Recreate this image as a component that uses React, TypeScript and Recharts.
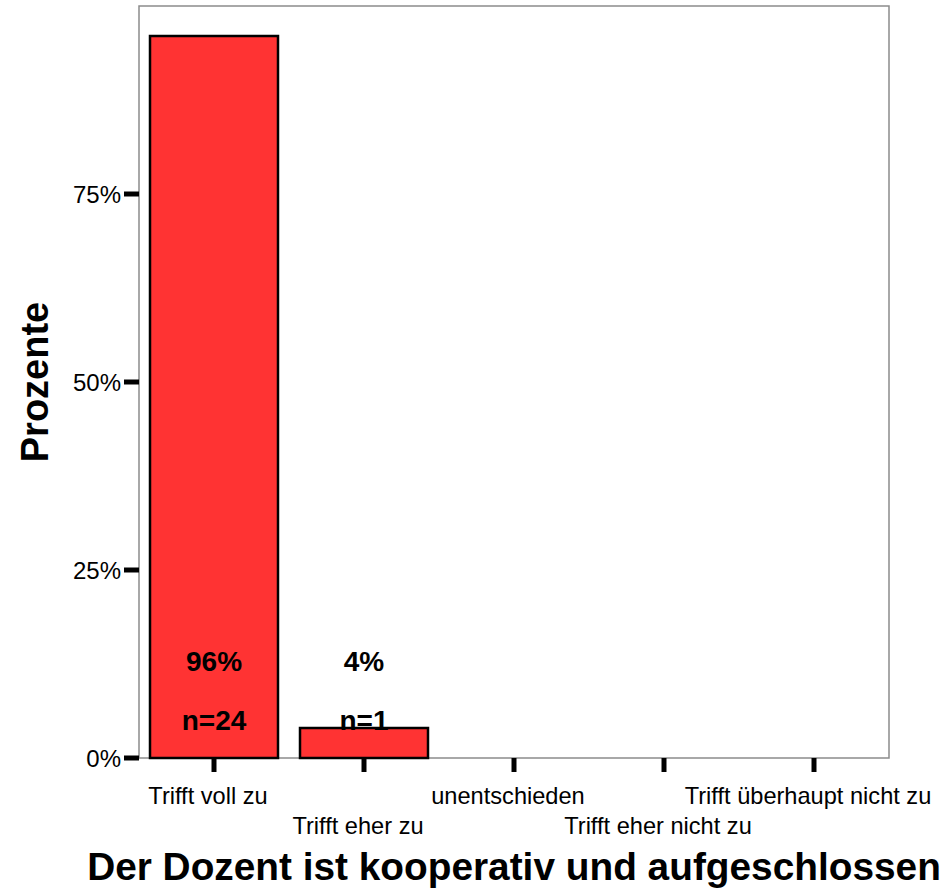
import { BarChart, Bar, XAxis, YAxis, ReferenceArea } from 'recharts';

const categories = [
  'Trifft voll zu',
  'Trifft eher zu',
  'unentschieden',
  'Trifft eher nicht zu',
  'Trifft überhaupt nicht zu',
];
const percents = [96, 4, 0, 0, 0];
const counts = [24, 1, 0, 0, 0];
const yTicks = [0, 25, 50, 75];

// empty categories get no bar at all
const data = categories.map((name, i) => ({
  name,
  pct: percents[i] > 0 ? percents[i] : null,
  n: counts[i],
}));

const FONT = '"Liberation Sans", Arial, sans-serif';

const XTick = ({ x, y, payload }: any) => {
  const idx = categories.indexOf(payload.value);
  return (
    <text
      x={x - 6}
      y={y + (idx % 2 ? 52 : 22)}
      textAnchor="middle"
      dominantBaseline="central"
      fontSize={23.6}
      fontFamily={FONT}
      fill="#000"
    >
      {payload.value}
    </text>
  );
};

const BarLabel = ({ x, y, width, height, index }: any) => {
  if (percents[index] <= 0) return null;
  const cx = x + width / 2;
  const bottom = y + height;
  return (
    <g fontFamily={FONT} fontWeight="bold" fontSize={28} fill="#000" textAnchor="middle">
      <text x={cx} y={bottom - 97} dominantBaseline="central">{percents[index]}%</text>
      <text x={cx} y={bottom - 38} dominantBaseline="central">n={counts[index]}</text>
    </g>
  );
};

const YTitle = ({ viewBox }: any) => {
  const cx = viewBox.x + 35;
  const cy = viewBox.y + viewBox.height / 2;
  return (
    <text
      x={cx}
      y={cy}
      transform={`rotate(-90, ${cx}, ${cy})`}
      textAnchor="middle"
      dominantBaseline="central"
      fontSize={38}
      fontWeight="bold"
      fontFamily={FONT}
      fill="#000"
    >
      Prozente
    </text>
  );
};

const XTitle = ({ viewBox }: any) => (
  <text
    x={viewBox.x + viewBox.width / 2}
    y={viewBox.y + 108}
    textAnchor="middle"
    dominantBaseline="central"
    fontSize={38.8}
    fontWeight="bold"
    fontFamily={FONT}
    fill="#000"
  >
    Der Dozent ist kooperativ und aufgeschlossen
  </text>
);

export default function App() {
  return (
    <div style={{ position: 'absolute', left: 0, top: 0, width: 950, height: 892, background: '#fff' }}>
      <BarChart
        width={950}
        height={892}
        data={data}
        margin={{ top: 6, right: 61, bottom: 0, left: 0 }}
        barCategoryGap={11}
        style={{ fontFamily: FONT }}
      >
        <ReferenceArea y1={0} y2={100} fill="none" stroke="#8c8c8c" strokeWidth={1.5} ifOverflow="visible" />
        <XAxis
          dataKey="name"
          height={134}
          axisLine={false}
          tickLine={{ stroke: '#000', strokeWidth: 5 }}
          tickSize={14}
          tick={<XTick />}
          interval={0}
          label={<XTitle />}
        />
        <YAxis
          width={139}
          domain={[0, 100]}
          ticks={yTicks}
          axisLine={false}
          tickLine={{ stroke: '#000', strokeWidth: 5 }}
          tickSize={15}
          tickMargin={3}
          tick={{ fill: '#000', fontSize: 24, fontFamily: FONT }}
          tickFormatter={(v) => `${v}%`}
          label={<YTitle />}
        />
        <Bar
          dataKey="pct"
          fill="#ff3333"
          stroke="#000"
          strokeWidth={2.5}
          isAnimationActive={false}
          label={<BarLabel />}
        />
      </BarChart>
    </div>
  );
}
